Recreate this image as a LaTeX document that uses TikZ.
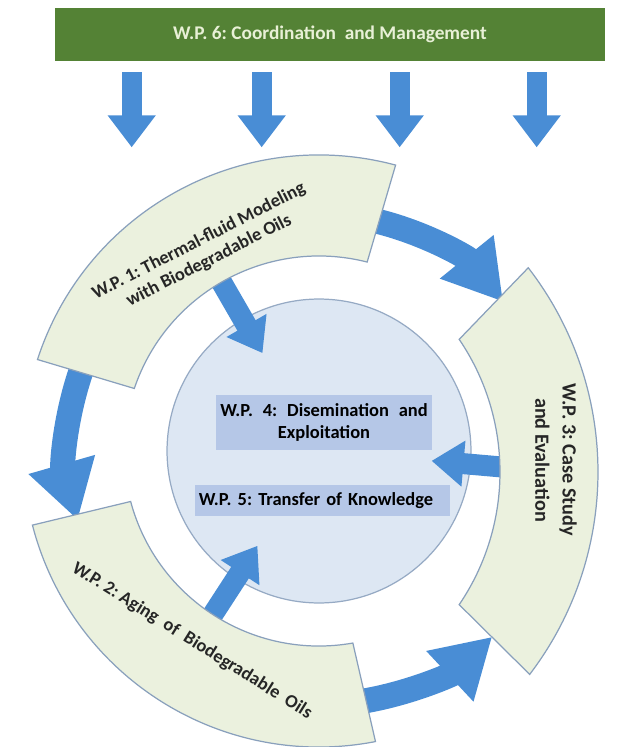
\documentclass[tikz,border=0pt]{standalone}
\usepackage{fontspec}
\setmainfont{Carlito}
\usepackage{xcolor}
\usepackage{tikz}
\usetikzlibrary{arrows.meta,calc,positioning}
\frenchspacing

\definecolor{mgmtgreen}{RGB}{84,130,53}
\definecolor{mgmttext}{RGB}{232,240,214}
\definecolor{bandfill}{RGB}{235,241,222}
\definecolor{bandline}{RGB}{137,160,188}
\definecolor{hubfill}{RGB}{221,231,243}
\definecolor{hubline}{RGB}{150,170,196}
\definecolor{boxfill}{RGB}{181,199,231}
\definecolor{flowblue}{RGB}{73,141,213}

\begin{document}
\begin{tikzpicture}[x=0.02cm, y=0.02cm,
    wpfont/.style={font=\bfseries\fontsize{10.5}{12.5}\selectfont},
    band/.style={fill=bandfill, draw=bandline, line width=0.7pt},
    wptext/.style={wpfont, align=center, text=black!85},
    wpbox/.style={wpfont, fill=boxfill, inner sep=0pt},
    downflow/.style={draw=flowblue, line width=0.4cm, -{Triangle[width=0.92cm, length=0.64cm]}},
    inflow/.style={draw=flowblue, line width=0.42cm, -{Triangle[width=0.88cm, length=0.64cm]}},
    ringflow/.style={draw=flowblue, line width=0.5cm, -{Triangle[width=1.3cm, length=1.16cm]}}]
  \useasboundingbox (0,0) rectangle (620,-747);

  \node[fill=mgmtgreen, text=mgmttext, font=\bfseries\fontsize{11}{13}\selectfont, minimum width=11cm, minimum height=1.06cm] at (330,-34.5) (wp6) {W.P. 6: Coordination~ and Management};
  \foreach \dx in {77,207,345,482}
    \draw[downflow] ($(wp6.south west)+(\dx,-11)$) -- ++(0,-75);

  \node[circle, fill=hubfill, draw=hubline, line width=0.7pt, minimum size=6.08cm] at (319,-451) (hub) {};
  \coordinate (wp3c) at (264,-472);

  \foreach \a in {120,237,-5}
    \draw[inflow] ($(hub.center)+(\a:196)$) -- ($(hub.center)+(\a:113)$);
  \foreach \s/\e/\r in {80/39/237, 157/196/251, 276/313/254}
    \draw[ringflow] ($(hub.center)+(\s:\r)$) arc[start angle=\s, end angle=\e, radius=\r];

  \draw[band] ($(hub.center)+(75:296)$) arc[start angle=75, end angle=162, radius=296]
    -- ($(hub.center)+(161.3:195)$) arc[start angle=161.3, end angle=75.7, radius=195] -- cycle;
  \draw[band] ($(hub.center)+(194.5:296)$) arc[start angle=194.5, end angle=281, radius=296]
    -- ($(hub.center)+(280:195)$) arc[start angle=280, end angle=195, radius=195] -- cycle;
  \draw[band] ($(wp3c)+(37.7:334)$) arc[start angle=37.7, end angle=-37.3, radius=334]
    -- ($(wp3c)+(-34.2:236)$) arc[start angle=-34.2, end angle=34.2, radius=236] -- cycle;

  \node[wptext, rotate=27] at (204,-251) (wp1) {W.P. 1: Thermal-fluid Modeling\\with Biodegradable Oils};
  \node[wptext, rotate=-32] at (192,-641) (wp2) {W.P. 2: Aging~ of~ Biodegradable~ Oils};
  \node[wptext, rotate=-90, font=\bfseries\fontsize{11.5}{15.5}\selectfont] at (556,-460) (wp3) {W.P. 3: Case Study\\and Evaluation};
  \node[wpbox, minimum width=4.32cm, minimum height=1.1cm, align=center] at (324,-422.5) (wp4) {\makebox[4.15cm][s]{W.P. 4: Disemination and}\\Exploitation};
  \node[wpbox, minimum width=5.1cm, minimum height=0.62cm, text width=4.95cm, align=left] at (322.5,-500.5) (wp5) {W.P. 5: Transfer of Knowledge};
\end{tikzpicture}
\end{document}
